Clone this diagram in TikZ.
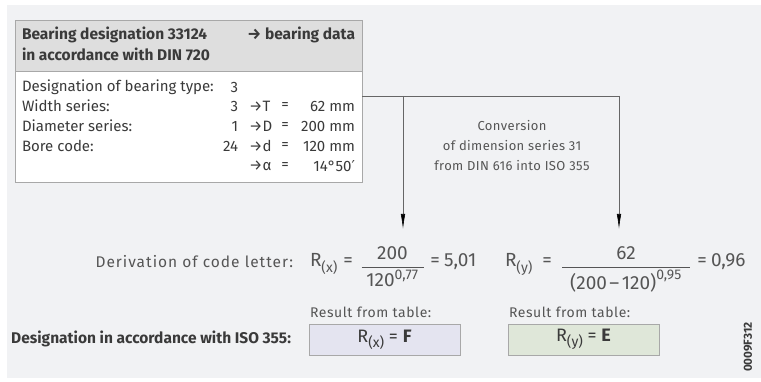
\documentclass[tikz,border=0pt]{standalone}
\usepackage{fontspec}
\usepackage{amsmath}
\setmainfont{Fira Sans}
\newfontfamily\dejavu{DejaVu Sans}
\usetikzlibrary{arrows.meta}
\definecolor{bg}{HTML}{F1F2F4}
\definecolor{hdr}{HTML}{DEDEDE}
\definecolor{txt}{HTML}{3A3A3A}
\definecolor{ltxt}{HTML}{555555}
\definecolor{frame}{HTML}{A8A8A8}
\definecolor{boxx}{HTML}{E4E4F0}
\definecolor{boxy}{HTML}{DFE7D9}
\tikzset{
  every node/.style={inner sep=0pt, outer sep=0pt, text=txt},
  body/.style={font=\fontsize{15}{17}\selectfont},
  hb/.style={font=\fontsize{15.5}{17}\selectfont\bfseries},
  conv/.style={font=\fontsize{13}{20}\selectfont\addfontfeature{LetterSpace=3}, text=ltxt, align=center},
  frm/.style={font=\fontsize{19}{21}\selectfont, text=ltxt},
  small/.style={font=\fontsize{15.5}{17}\selectfont\addfontfeature{LetterSpace=6.5}, text=ltxt},
  res/.style={font=\fontsize{14}{16}\selectfont\addfontfeature{LetterSpace=4}, text=ltxt},
  conn/.style={draw=gray!80!black, line width=0.6pt},
  arr/.style={conn, -{Latex[length=15pt,width=4.5pt,black]}},
  resbox/.style={draw=frame, line width=0.6pt, minimum width=151pt, minimum height=31pt, anchor=north west, font=\fontsize{18}{20}\selectfont, text=txt},
}
\newcommand{\tx}[1]{\text{#1}}
\newcommand{\Rs}[1]{R\raisebox{-0.3em}{\fontsize{14}{15}\selectfont(#1)}}
\newcommand{\supx}[1]{\text{\fontsize{14}{15}\selectfont #1}}
\begin{document}
\begin{tikzpicture}[x=1pt,y=-1pt]
\useasboundingbox (0,0) rectangle (761,382);
\fill[white] (0,0) rectangle (761,382);
\fill[bg] (7,5) rectangle (761,378);
% table
\fill[white] (15,20) rectangle (362,182);
\fill[hdr] (15,20) rectangle (362,71);
\draw[frame, line width=0.6pt] (15,71) -- (362,71);
\node[draw=frame, line width=0.6pt, minimum width=347pt, minimum height=162pt, anchor=north west] (tbl) at (15,20) {};
\node[hb, anchor=west] (h1) at (22,35) {Bearing designation 33124};
\node[hb, anchor=west] (h2) at (22,54) {in accordance with DIN 720};
\node[hb, anchor=east] (h3) at (355,35) {→ bearing data};
% rows
\node[body, anchor=west] (r1) at (22,87) {Designation of bearing type:};
\node[body, anchor=west] (r2) at (22,106) {Width series:};
\node[body, anchor=west] (r3) at (22,126) {Diameter series:};
\node[body, anchor=west] (r4) at (22,146) {Bore code:};
\node[body, anchor=east] (n1) at (238,87) {3};
\node[body, anchor=east] (n2) at (238,106) {3};
\node[body, anchor=east] (n3) at (238,126) {1};
\node[body, anchor=east] (n4) at (238,146) {24};
\node[body, anchor=west] (a2) at (249,106) {→T};
\node[body, anchor=west] (a3) at (249,126) {→D};
\node[body, anchor=west] (a4) at (249,146) {→d};
\node[body, anchor=west] (a5) at (249,166) {→α};
\node[body] (e2) at (285,106) {=};
\node[body] (e3) at (285,126) {=};
\node[body] (e4) at (285,146) {=};
\node[body] (e5) at (285,166) {=};
\node[body, anchor=east] (v2) at (355,106) {62 mm};
\node[body, anchor=east] (v3) at (355,126) {200 mm};
\node[body, anchor=east] (v4) at (355,146) {120 mm};
\node[body, anchor=east] (v5) at (355,166) {14°50{\dejavu ′}};
% connectors
\coordinate (j1) at (403,96);
\coordinate (j2) at (619,96);
\coordinate (tx) at (403,229);
\coordinate (ty) at (619,229);
\draw[conn] (tbl.east |- j1) -- (j2);
\draw[arr] (j1) -- (tx);
\draw[arr] (j2) -- (ty);
\node[conv] (cv) at (512,146) {Conversion\\of dimension series 31\\from DIN 616 into ISO 355};
% formulas
\node[small, anchor=base east] (der) at (293,268) {Derivation of code letter:};
\node[frm, anchor=base west] (rx) at (310,267) {\Rs{x}};
\node[frm, anchor=base] (eqx1) at (348,267) {=};
\node[frm, anchor=base] (fracx) at (392.5,271.5) {$\dfrac{\makebox[62pt]{\tx{200}}}{\tx{120}^{\supx{0,77}}}$};
\node[frm, anchor=base] (eqx2) at (435,267) {=};
\node[frm, anchor=base west] (vx) at (444,267) {5,01};
\node[frm, anchor=base west] (ry) at (505,267) {\Rs{y}};
\node[frm, anchor=base] (eqy1) at (547,267) {=};
\node[frm, anchor=base] (fracy) at (626,271.5) {$\dfrac{\makebox[128pt]{\tx{62}}}{\tx{(200\hspace{2.5pt}–\hspace{2.5pt}120)}^{\supx{0,95}}}$};
\node[frm, anchor=base] (eqy2) at (702,267) {=};
\node[frm, anchor=base west] (vy) at (711,267) {0,96};
% results
\node[res, anchor=west] (rt1) at (310,312) {Result from table:};
\node[res, anchor=west] (rt2) at (509,312) {Result from table:};
\node[resbox, fill=boxx] (bx) at (309,324) {\Rs{x} = \textbf{F}};
\node[resbox, fill=boxy] (by) at (508,324) {\Rs{y} = \textbf{E}};
\node[hb, anchor=east] (des) at (291,339) {Designation in accordance with ISO 355:};
\node[font=\fontsize{11.7}{13}\selectfont\bfseries, rotate=90] (code) at (748,347) {0009F312};
\end{tikzpicture}
\end{document}
